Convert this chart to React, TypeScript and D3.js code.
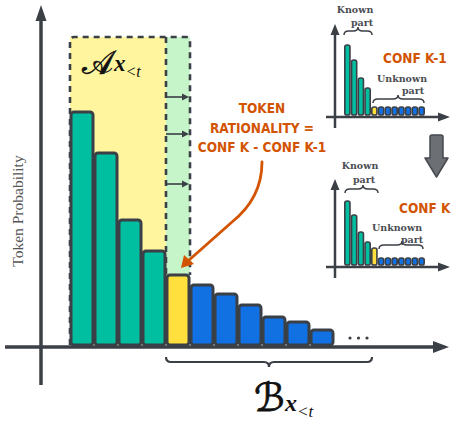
import React from "react";
import * as d3 from "d3";

// ---- data ----
const tokens = ["t1", "t2", "t3", "t4", "t5", "t6", "t7", "t8", "t9", "t10", "t11"];
const tokenProb = [23.3, 19.2, 12.5, 9.4, 7.0, 6.0, 5.1, 4.0, 2.8, 2.3, 1.5];
const tokenGroup = ["known", "known", "known", "known", "new", "unknown", "unknown", "unknown", "unknown", "unknown", "unknown"];

const insetTokens = ["a", "b", "c", "d", "e", "f", "g", "h", "i", "j", "k", "l"];
const insetPrevProb = [7.0, 5.5, 3.7, 2.7, 0.8, 0.8, 0.8, 0.8, 0.8, 0.8, 0.8, 0.8];
const insetCurProb = [6.4, 5.0, 3.3, 2.3, 1.7, 0.7, 0.7, 0.7, 0.7, 0.7, 0.7, 0.7];
const insetGroup = ["known", "known", "known", "known", "new", "unknown", "unknown", "unknown", "unknown", "unknown", "unknown", "unknown"];

const yAxisLabel = "Token Probability";
const annotationLines = ["TOKEN", "RATIONALITY =", "CONF K - CONF K-1"];
const insetTitles = ["CONF K-1", "CONF K"];

const colors: Record<string, string> = { known: "#00BFA0", new: "#FFE03C", unknown: "#1171E2" };
const DARK = "#3b3f46";
const ORANGE = "#D25300";
const HAND = "'DejaVu Sans Condensed', 'Liberation Sans Narrow', sans-serif";
const MATH = "'Liberation Serif', 'DejaVu Serif', serif";

function brace(x1: number, x2: number, y: number, h: number, tipX?: number) {
  const mid = tipX ?? (x1 + x2) / 2;
  const r = Math.min(5, (x2 - x1) / 6);
  const yb = y + h / 2;
  return `M${x1},${y} Q${x1},${yb} ${x1 + r},${yb} L${mid - r},${yb} Q${mid},${yb} ${mid},${y + h} Q${mid},${yb} ${mid + r},${yb} L${x2 - r},${yb} Q${x2},${yb} ${x2},${y}`;
}

function Inset({ values, base, top, title, titleX, titleY, knownLabel, unknownLabel }: any) {
  const x = d3.scaleBand<string>().domain(insetTokens).range([344, 425]).paddingInner(0);
  const y = d3.scaleLinear().domain([0, 10]).range([base, base - 100]);
  const axisY = base + 2;
  const lbl = { textAnchor: "middle" as const, fontFamily: "'DejaVu Serif', serif", fontWeight: "bold", fontSize: 9.5, fill: "#4a4d52" };
  return (
    <g>
      <line x1={335} x2={335} y1={top + 8} y2={axisY + 11} stroke={DARK} strokeWidth={2.5} />
      <path d={`M335,${top} L330.5,${top + 11} L339.5,${top + 11} Z`} fill={DARK} />
      <line x1={326} x2={440} y1={axisY} y2={axisY} stroke={DARK} strokeWidth={2.5} />
      <path d={`M450,${axisY} L438,${axisY - 4.5} L438,${axisY + 4.5} Z`} fill={DARK} />
      {values.map((v: number, i: number) => {
        const bx = x(insetTokens[i])! + 0.8;
        const bw = x.bandwidth() - 1.6;
        return (
          <rect key={i} x={bx} y={y(v)} width={bw} height={base - y(v)} rx={bw / 2 - 0.5}
            fill={colors[insetGroup[i]]} stroke={DARK} strokeWidth={1.6} />
        );
      })}
      <path d={knownLabel.brace} fill="none" stroke={DARK} strokeWidth={1.5} />
      <text x={knownLabel.x1} y={knownLabel.y1} {...lbl}>Known</text>
      <text x={knownLabel.x2} y={knownLabel.y2} {...lbl}>part</text>
      <path d={unknownLabel.brace} fill="none" stroke={DARK} strokeWidth={1.5} />
      <text x={unknownLabel.x1} y={unknownLabel.y1} {...lbl}>Unknown</text>
      <text x={unknownLabel.x2} y={unknownLabel.y2} {...lbl}>part</text>
      <text x={titleX} y={titleY} fontFamily={HAND} fontWeight="bold" fontSize={13.5} fill={ORANGE}>{title}</text>
    </g>
  );
}

export default function App() {
  const W = 453, H = 423;
  const x = d3.scaleBand<string>().domain(tokens).range([70, 334]).paddingInner(0);
  const y = d3.scaleLinear().domain([0, 10]).range([345, 245]);
  const bw = x.bandwidth();
  const xEnd = x(tokens[3])! + bw; // end of known region
  const xNew = x(tokens[4])! + bw; // end of new token
  const regionTop = 37;
  const newTop = y(tokenProb[4]);

  return (
    <svg width={W} height={H} style={{ position: "absolute", left: 0, top: 0, background: "#fff" }}>
      {/* shaded regions */}
      <rect x={70} y={regionTop} width={xEnd - 70} height={345 - regionTop} fill="#FFF59F" />
      <rect x={xEnd} y={regionTop} width={xNew - xEnd} height={newTop - regionTop} fill="#C6F5C9" />
      <path d={`M70,${345} L70,${regionTop + 4} Q70,${regionTop} 74,${regionTop} L${xNew - 4},${regionTop} Q${xNew},${regionTop} ${xNew},${regionTop + 4} L${xNew},${newTop}`}
        fill="none" stroke={DARK} strokeWidth={2.6} strokeDasharray="6,5" />
      <line x1={xEnd} x2={xEnd} y1={regionTop} y2={newTop} stroke={DARK} strokeWidth={2.6} strokeDasharray="6,5" />
      {[97, 134, 184].map((ay) => (
        <g key={ay}>
          <line x1={xEnd} x2={xNew - 5} y1={ay} y2={ay} stroke={DARK} strokeWidth={1.6} />
          <path d={`M${xNew - 1},${ay} L${xNew - 8},${ay - 3.5} L${xNew - 8},${ay + 3.5} Z`} fill={DARK} />
        </g>
      ))}

      {/* A label */}
      <text x={82} y={74} fontFamily="'DejaVu Serif', 'DejaVu Sans', serif" fontSize={33} fill="#111" stroke="#111" strokeWidth={0.6}>
        𝒜
      </text>
      <text x={114} y={71} fontFamily={MATH} fill="#111">
        <tspan fontStyle="italic" fontWeight="bold" fontSize={23}>x</tspan>
        <tspan fontStyle="italic" fontSize={16} dy={6}>&lt;t</tspan>
      </text>

      {/* axes */}
      <line x1={41} x2={41} y1={14} y2={385} stroke={DARK} strokeWidth={3.5} />
      <path d="M41,5 L35.5,21 L46.5,21 Z" fill={DARK} />
      <line x1={5} x2={436} y1={347} y2={347} stroke={DARK} strokeWidth={3.5} />
      <path d="M449,347 L433,341 L433,353 Z" fill={DARK} />

      {/* bars */}
      {tokenProb.map((v, i) => (
        <rect key={i} x={x(tokens[i])! + 1} y={y(v)} width={bw - 2} height={345 - y(v)} rx={3}
          fill={colors[tokenGroup[i]]} stroke={DARK} strokeWidth={3} />
      ))}
      {[350, 358.5, 367].map((cx) => <circle key={cx} cx={cx} cy={338} r={1.6} fill={DARK} />)}

      {/* brace + B label */}
      <path d={brace(xEnd, 372, 357, 10, 269)} fill="none" stroke={DARK} strokeWidth={2.2} />
      <text x={254} y={411} fontFamily="'DejaVu Serif', 'DejaVu Sans', serif" fontSize={39} fill="#111" stroke="#111" strokeWidth={0.8}>
        ℬ
      </text>
      <text x={285} y={411} fontFamily={MATH} fill="#111">
        <tspan fontStyle="italic" fontWeight="bold" fontSize={24}>x</tspan>
        <tspan fontStyle="italic" fontSize={17} dy={6}>&lt;t</tspan>
      </text>

      {/* y label */}
      <text transform="translate(23,211) rotate(-90)" textAnchor="middle" fontFamily={MATH} fontSize={15.5} fill="#555">{yAxisLabel}</text>

      {/* annotation */}
      {annotationLines.map((t, i) => (
        <text key={t} x={262} y={113 + i * 19.5} textAnchor="middle" fontFamily={HAND} fontWeight="bold" fontSize={13.5} fill={ORANGE}>{t}</text>
      ))}
      <path d="M262,162 Q262,198 232,222 L188,261" fill="none" stroke={ORANGE} strokeWidth={2.8} strokeLinecap="round" />
      <path d="M181,268 L184,255 L194,264 Z" fill={ORANGE} />

      {/* insets */}
      <Inset values={insetPrevProb} base={115} top={24} title={insetTitles[0]} titleX={383} titleY={63}
        knownLabel={{ brace: brace(344, 372, 35, -8, 358), x1: 355, y1: 13, x2: 362, y2: 26 }}
        unknownLabel={{ brace: brace(373, 424, 103, -8, 398), x1: 402, y1: 82, x2: 413, y2: 94 }} />
      <Inset values={insetCurProb} base={265} top={179} title={insetTitles[1]} titleX={399} titleY={213}
        knownLabel={{ brace: brace(345, 378, 193, -8, 363), x1: 360, y1: 169, x2: 364, y2: 183 }}
        unknownLabel={{ brace: brace(379, 423, 249, -8, 402), x1: 397, y1: 231, x2: 412, y2: 243 }} />

      {/* block arrow */}
      <path d="M430,137 Q430,135 432,135 L441,135 Q443,135 443,137 L443,158 L448,158 L436.5,177 L425,158 L430,158 Z"
        fill="#6c6f74" stroke="#45494f" strokeWidth={1.5} strokeLinejoin="round" />
    </svg>
  );
}
